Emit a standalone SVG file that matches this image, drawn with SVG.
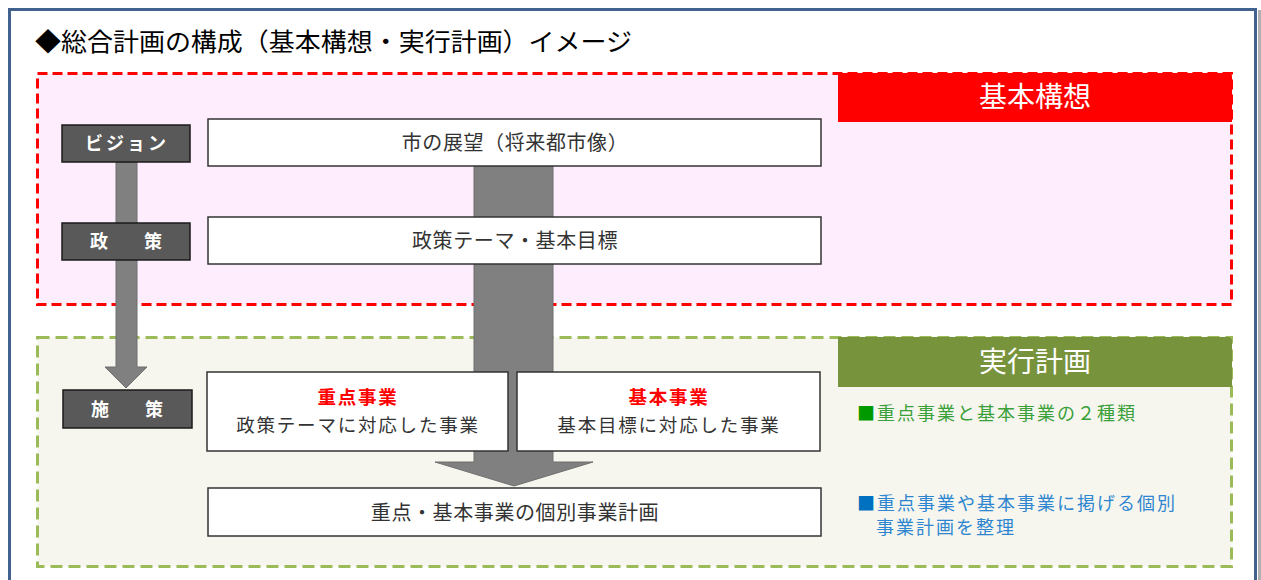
<svg xmlns="http://www.w3.org/2000/svg" width="1261" height="580" viewBox="0 0 1261 580">
<style>
.jp{font-family:"Noto Sans CJK JP","Noto Sans CJK SC",sans-serif;}
.lbl rect{fill:#595959;stroke:#1a1a1a;stroke-width:1.5;}
.lbl text{fill:#fff;font-size:18px;font-weight:bold;text-anchor:middle;}
.box rect{fill:#fff;stroke:#333;stroke-width:1.5;}
.box text{fill:#333;font-size:20px;text-anchor:middle;letter-spacing:0.6px;}
.box text.two{font-size:18.5px;letter-spacing:1.8px;}
.red{fill:#ff0000 !important;font-weight:bold;}
.arrow{fill:#808080;stroke:#6f6f6f;stroke-width:1;}
.note{font-size:18px;letter-spacing:2px;}
</style>
<rect x="0" y="0" width="1261" height="580" fill="#fff"/>
<rect x="1258" y="10" width="3" height="570" fill="#b0b0b0"/>
<rect x="9.5" y="9.5" width="1246" height="580" fill="#fff" stroke="#41618f" stroke-width="3"/>
<text class="jp" x="35" y="51" font-size="25" fill="#000" textLength="597" lengthAdjust="spacingAndGlyphs">◆総合計画の構成（基本構想・実行計画）イメージ</text>

<g id="kihon-koso">
<rect x="37.5" y="73.5" width="1194" height="231" fill="#fdedfd" stroke="#ff0000" stroke-width="3" stroke-dasharray="10,5"/>
<path d="M838 73 H1228 Q1232 73 1232 77 V122 H838 Z" fill="#ff0000"/>
<text class="jp" x="1035" y="107" font-size="28" fill="#fff" text-anchor="middle">基本構想</text>
</g>

<g id="jikko-keikaku">
<rect x="37.5" y="337.5" width="1194" height="229" fill="#f6f6ee" stroke="#9bbb59" stroke-width="3" stroke-dasharray="12,6"/>
<path d="M838 337 H1228 Q1232 337 1232 341 V387 H838 Z" fill="#77933c"/>
<text class="jp" x="1035" y="372" font-size="28" fill="#fff" text-anchor="middle">実行計画</text>
</g>

<g id="connectors">
<path class="arrow" d="M116 162 H137 V367 H147 L126 388 L105 367 H116 Z"/>
<path class="arrow" d="M474 166 H553 V462 H593 L514 486 L435 462 H474 Z"/>
</g>

<g id="label-vision" class="lbl jp">
<rect x="62" y="125" width="128" height="37"/>
<text x="127" y="150" letter-spacing="3">ビジョン</text>
</g>
<g id="label-seisaku" class="lbl jp">
<rect x="62" y="223" width="128" height="37"/>
<text x="126" y="248">政　　策</text>
</g>
<g id="label-shisaku" class="lbl jp">
<rect x="63" y="390" width="129" height="38"/>
<text x="127" y="416">施　　策</text>
</g>

<g id="box-vision" class="box jp">
<rect x="208" y="119" width="613" height="47"/>
<text x="515" y="150">市の展望（将来都市像）</text>
</g>
<g id="box-seisaku" class="box jp">
<rect x="208" y="217" width="613" height="47"/>
<text x="515" y="248">政策テーマ・基本目標</text>
</g>
<g id="box-juten" class="box jp">
<rect x="207" y="372" width="301" height="79"/>
<text x="358" y="404" class="red two">重点事業</text>
<text x="358" y="432" class="two">政策テーマに対応した事業</text>
</g>
<g id="box-kihon" class="box jp">
<rect x="517" y="372" width="303" height="79"/>
<text x="669" y="404" class="red two">基本事業</text>
<text x="669" y="432" class="two">基本目標に対応した事業</text>
</g>
<g id="box-kobetsu" class="box jp">
<rect x="208" y="488" width="613" height="48"/>
<text x="515" y="520">重点・基本事業の個別事業計画</text>
</g>

<g id="note-1" class="jp note">
<text x="857" y="420" fill="#3aa03a"><tspan fill="#009900">■</tspan>重点事業と基本事業の２種類</text>
</g>
<g id="note-2" class="jp note">
<text x="857" y="510" fill="#2f86d0"><tspan fill="#0070c0">■</tspan>重点事業や基本事業に掲げる個別</text>
<text x="876" y="534" fill="#2f86d0">事業計画を整理</text>
</g>
</svg>
